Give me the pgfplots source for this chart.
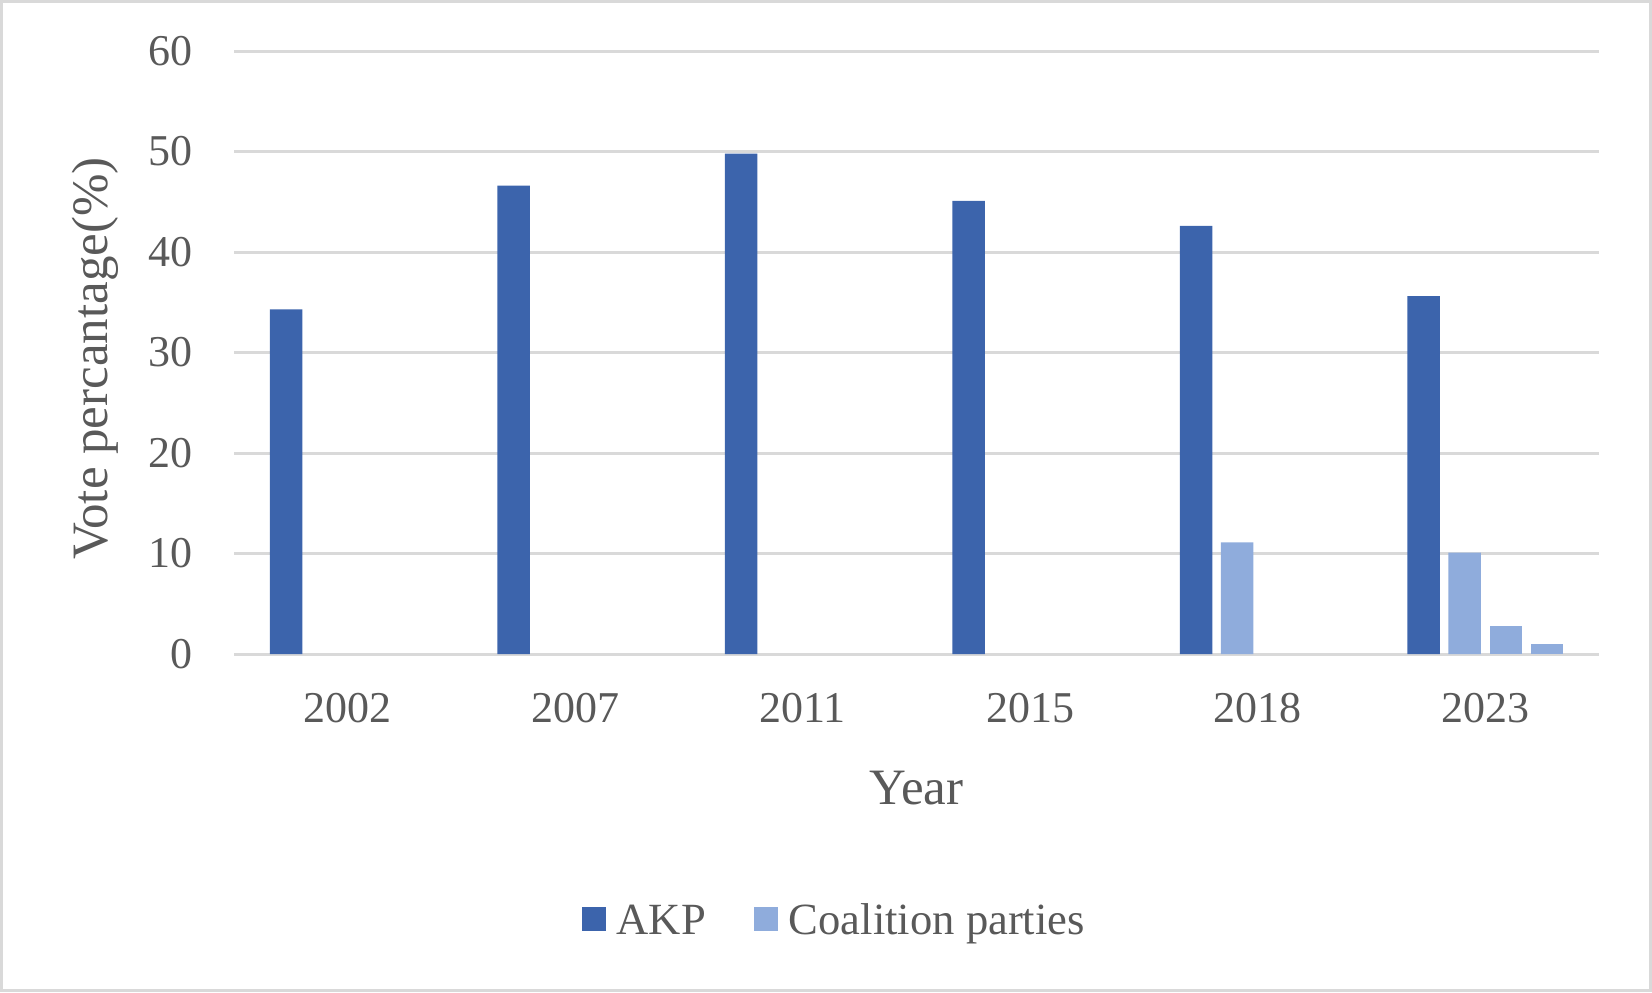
\documentclass[border=0pt]{standalone}
\usepackage{fontspec}
\setmainfont{Liberation Serif}
\usepackage{pgfplots}
\pgfplotsset{compat=1.18}
\definecolor{akp}{HTML}{3C64AC}
\definecolor{coal}{HTML}{8FACDC}
\definecolor{txt}{HTML}{595959}
\definecolor{gridc}{HTML}{D9D9D9}
\begin{document}
\begin{tikzpicture}
\useasboundingbox (0,0) rectangle (826pt,496pt);
\draw[gridc, line width=1.5pt] (0.75pt,0.75pt) rectangle (825.25pt,495.25pt);
\begin{axis}[
  at={(117pt,169pt)}, anchor=south west,
  scale only axis, width=682.5pt, height=301.5pt,
  ybar, bar width=16.3pt,
  xmin=-0.5, xmax=5.5, ymin=0, ymax=60,
  ytick={0,10,...,60},
  xtick={0,...,5},
  xticklabels={2002,2007,2011,2015,2018,2023},
  ymajorgrids, major grid style={gridc, line width=1.5pt},
  axis line style={draw=none},
  major tick length=0pt,
  tick label style={font=\fontsize{22}{24}\selectfont, text=txt},
  /pgf/number format/assume math mode=true,
  xticklabel style={inner sep=0pt, anchor=north, yshift=-19.5pt},
  yticklabel style={inner sep=0pt, anchor=east, xshift=-20.5pt},
  xlabel={Year},
  xlabel style={at={(axis description cs:0.5,-0.2222)}, anchor=center,
    font=\fontsize{25.5}{28}\selectfont, text=txt},
  ylabel={Vote percantage(\%)},
  ylabel style={at={(axis description cs:-0.1018,0.49)}, anchor=center,
    font=\fontsize{25.5}{28}\selectfont, text=txt},
  legend columns=2,
  legend cell align=left,
  legend image code/.code={\fill[#1] (0pt,-5pt) rectangle (12pt,7pt);},
  legend style={at={(axis description cs:0.439,-0.4428)}, anchor=center,
    draw=none, fill=none, inner sep=0pt,
    font=\fontsize{22.3}{24}\selectfont, text=txt,
    nodes={inner sep=0pt},
    /tikz/every odd column/.append style={column sep=5.5pt},
    /tikz/every even column/.append style={column sep=24pt}},
]
\addplot[fill=akp, draw=none, bar shift=-30.8pt] coordinates {
  (0,34.3) (1,46.6) (2,49.8) (3,45.1) (4,42.6) (5,35.6)};
\addlegendentry{AKP}
\addplot[fill=coal, draw=none, bar shift=-10.3pt] coordinates {
  (4,11.1) (5,10.1)};
\addlegendentry{Coalition parties}
\addplot[fill=coal, draw=none, bar shift=10.3pt, forget plot] coordinates {
  (5,2.8)};
\addplot[fill=coal, draw=none, bar shift=30.8pt, forget plot] coordinates {
  (5,1.0)};
\end{axis}
\end{tikzpicture}
\end{document}
